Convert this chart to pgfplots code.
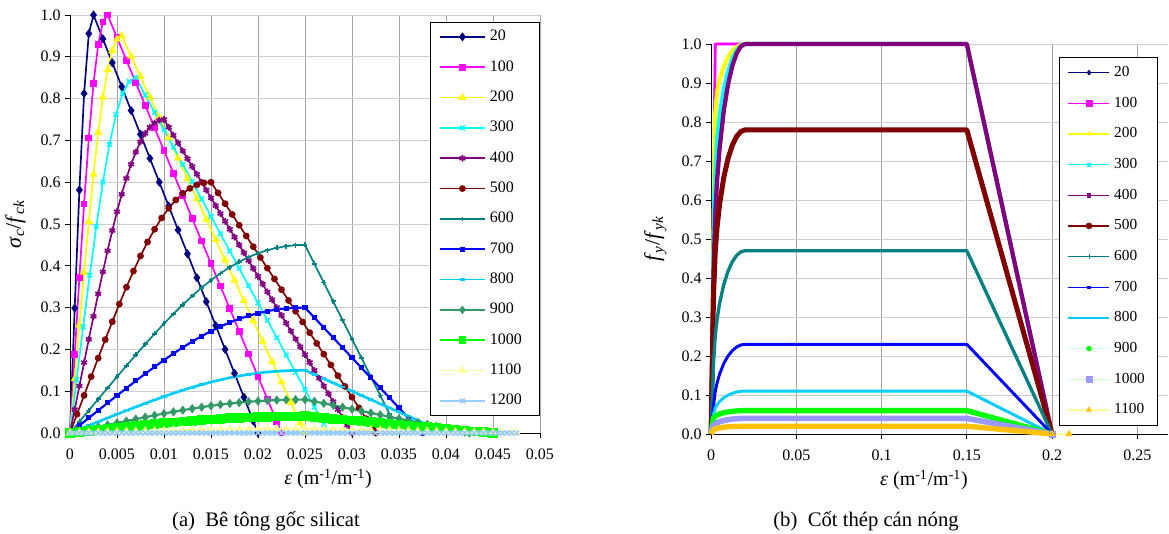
\documentclass[border=0pt]{standalone}
\usepackage{pgfplots}
\pgfplotsset{compat=1.18}
\usepackage{fontspec}
\setmainfont{Liberation Serif}
\definecolor{cNavy}{HTML}{000080}
\definecolor{cMag}{HTML}{FF00FF}
\definecolor{cYel}{HTML}{FFFF00}
\definecolor{cCyan}{HTML}{00FFFF}
\definecolor{cPurp}{HTML}{800080}
\definecolor{cDRed}{HTML}{800000}
\definecolor{cTeal}{HTML}{008080}
\definecolor{cBlue}{HTML}{0000FF}
\definecolor{cSky}{HTML}{00CCFF}
\definecolor{cSea}{HTML}{339966}
\definecolor{cGreen}{HTML}{00FF00}
\definecolor{cLYel}{HTML}{FFFF99}
\definecolor{cPBlue}{HTML}{99CCFF}
\definecolor{cLCyan}{HTML}{CCFFFF}
\definecolor{cLGreen}{HTML}{CCFFCC}
\definecolor{cLav}{HTML}{9999FF}
\definecolor{cGold}{HTML}{FFC000}
\pgfplotsset{
  excel/.style={
    scale only axis,
    axis x line*=bottom, axis y line*=left,
    axis line style={black, line width=0.7pt},
    tick align=outside, major tick length=3.5pt,
    tick style={black, line width=0.7pt},
    grid=major,
    x grid style={color=gray!70, line width=0.6pt},
    y grid style={color=gray!40, line width=0.6pt},
    ymin=0, ymax=1,
    scaled x ticks=false, scaled y ticks=false,
    ytick={0,0.1,0.2,0.3,0.4,0.5,0.6,0.7,0.8,0.9,1},
    yticklabels={0.0,0.1,0.2,0.3,0.4,0.5,0.6,0.7,0.8,0.9,1.0},
    tick label style={font=\fontsize{12}{14}\selectfont},
    xticklabel style={yshift=-4.5pt},
    xlabel style={font=\fontsize{15}{17}\selectfont, anchor=base, yshift=-39pt},
    ylabel style={font=\fontsize{16.5}{18}\selectfont},
    ylabel shift=4.5pt,
    clip=false,
    legend cell align=left,
  },
  rleg/.style 2 args={legend image code/.code={%
     \draw[color=#1, line width=1.1pt] (0pt,0pt) -- (30.75pt,0pt);
     \draw[line width=0.5pt, #2] plot coordinates {(15.4pt,0pt)};}},
  lp/.style n args={3}{color=#1, line width=1.25pt, mark=#2, mark size=#3},
}
\begin{document}
\begin{tikzpicture}
\useasboundingbox (0pt,0pt) rectangle (876.75pt,400.5pt);
% ---------------- (a) ----------------
\begin{axis}[excel, at={(52.5pt,75.75pt)}, anchor=south west,
  width=352.5pt, height=313.5pt,
  xmin=0, xmax=0.05,
  xtick={0,0.005,0.01,0.015,0.02,0.025,0.03,0.035,0.04,0.045,0.05},
  xticklabels={0,0.005,0.01,0.015,0.02,0.025,0.03,0.035,0.04,0.045,0.05},
  xlabel={\textit{ε} (m\textsuperscript{-1}/m\textsuperscript{-1})},
  xlabel style={at={(axis description cs:0.549,0)}},
  ylabel={\textit{σ}\textsubscript{\textit{c}}/\textit{f}\textsubscript{\textit{ck}}},
  legend style={at={(1,0.983)}, anchor=north east, draw=black, line width=0.6pt,
    inner xsep=6.75pt, inner ysep=4.3pt, font=\fontsize{12}{14}\selectfont,
    row sep=9.75pt, column sep=0pt,
    nodes={inner xsep=3pt, inner ysep=1pt, text height=8.5pt, text depth=2.5pt, text width=27.5pt, align=left}},
  legend image code/.code={\draw[mark repeat=2,mark phase=2, line width=1.25pt] plot coordinates {(0pt,0pt) (17pt,0pt) (34pt,0pt)};},
]
\addplot[lp={cNavy}{diamond*}{2.4pt}] coordinates {(0,0)(0.0005,0.2988)(0.001,0.5814)(0.0015,0.8123)(0.002,0.9554)(0.0025,1)(0.0035,0.9429)(0.0045,0.8857)(0.0055,0.8286)(0.0065,0.7714)(0.0075,0.7143)(0.0085,0.6571)(0.0095,0.6)(0.0105,0.5429)(0.0115,0.4857)(0.0125,0.4286)(0.0135,0.3714)(0.0145,0.3143)(0.0155,0.2571)(0.0165,0.2)(0.0175,0.1429)(0.0185,0.0857)(0.0195,0.0286)(0.02,0)};
\addplot[lp={cMag}{square*}{1.9pt}] coordinates {(0,0)(0.0005,0.1873)(0.001,0.3721)(0.0015,0.5481)(0.002,0.7059)(0.0025,0.8355)(0.003,0.9290)(0.0035,0.9832)(0.004,1)(0.005,0.9459)(0.006,0.8919)(0.007,0.8378)(0.008,0.7838)(0.009,0.7297)(0.010,0.6757)(0.011,0.6216)(0.012,0.5676)(0.013,0.5135)(0.014,0.4595)(0.015,0.4054)(0.016,0.3514)(0.017,0.2973)(0.018,0.2432)(0.019,0.1892)(0.020,0.1351)(0.021,0.0811)(0.022,0.0270)(0.0225,0)};
\addplot[lp={cYel}{triangle*}{2.3pt}] coordinates {(0,0)(0.0005,0.1295)(0.001,0.2583)(0.0015,0.3847)(0.002,0.5060)(0.0025,0.6187)(0.003,0.7190)(0.0035,0.8033)(0.004,0.8692)(0.0045,0.9152)(0.005,0.9417)(0.0055,0.95)(0.0065,0.9013)(0.0075,0.8526)(0.0085,0.8038)(0.0095,0.7551)(0.0105,0.7064)(0.0115,0.6577)(0.0125,0.6090)(0.0135,0.5603)(0.0145,0.5115)(0.0155,0.4628)(0.0165,0.4141)(0.0175,0.3654)(0.0185,0.3167)(0.0195,0.2679)(0.0205,0.2192)(0.0215,0.1705)(0.0225,0.1218)(0.0235,0.0731)(0.0245,0.0244)(0.025,0)};
\addplot[lp={cCyan}{x}{2.4pt}] coordinates {(0,0)(0.0007,0.1274)(0.0014,0.2540)(0.0021,0.3774)(0.0028,0.4942)(0.0035,0.6000)(0.0042,0.6904)(0.0049,0.7618)(0.0056,0.8121)(0.0063,0.8410)(0.007,0.85)(0.008,0.8085)(0.009,0.7671)(0.010,0.7256)(0.011,0.6841)(0.012,0.6427)(0.013,0.6012)(0.014,0.5598)(0.015,0.5183)(0.016,0.4768)(0.017,0.4354)(0.018,0.3939)(0.019,0.3524)(0.020,0.3110)(0.021,0.2695)(0.022,0.2280)(0.023,0.1866)(0.024,0.1451)(0.025,0.1037)(0.026,0.0622)(0.027,0.0207)(0.0275,0)};
\addplot[lp={cPurp}{asterisk}{2.5pt}] coordinates {(0,0)(0.0005,0.0562)(0.001,0.1124)(0.0015,0.1685)(0.002,0.2241)(0.0025,0.2791)(0.003,0.3330)(0.0035,0.3855)(0.004,0.4361)(0.0045,0.4842)(0.005,0.5294)(0.0055,0.5712)(0.006,0.6092)(0.0065,0.6430)(0.007,0.6722)(0.0075,0.6968)(0.008,0.7166)(0.0085,0.7316)(0.009,0.7420)(0.0095,0.7481)(0.01,0.75)(0.0105,0.7313)(0.011,0.7125)(0.0115,0.6938)(0.012,0.675)(0.0125,0.6563)(0.013,0.6375)(0.0135,0.6188)(0.014,0.6)(0.0145,0.5813)(0.015,0.5625)(0.0155,0.5438)(0.016,0.525)(0.0165,0.5063)(0.017,0.4875)(0.0175,0.4688)(0.018,0.45)(0.0185,0.4313)(0.019,0.4125)(0.0195,0.3938)(0.02,0.375)(0.0205,0.3563)(0.021,0.3375)(0.0215,0.3188)(0.022,0.3)(0.0225,0.2813)(0.023,0.2625)(0.0235,0.2438)(0.024,0.225)(0.0245,0.2063)(0.025,0.1875)(0.0255,0.1688)(0.026,0.15)(0.0265,0.1313)(0.027,0.1125)(0.0275,0.0938)(0.028,0.075)(0.0285,0.0563)(0.029,0.0375)(0.0295,0.0188)(0.03,0)};
\addplot[lp={cDRed}{*}{1.9pt}] coordinates {(0,0)(0.00075,0.0450)(0.0015,0.0900)(0.00225,0.1348)(0.003,0.1793)(0.00375,0.2233)(0.0045,0.2664)(0.00525,0.3084)(0.006,0.3488)(0.00675,0.3873)(0.0075,0.4235)(0.00825,0.4570)(0.009,0.4874)(0.00975,0.5144)(0.0105,0.5378)(0.01125,0.5574)(0.012,0.5732)(0.01275,0.5853)(0.0135,0.5936)(0.01425,0.5985)(0.015,0.6)(0.01575,0.5743)(0.0165,0.5486)(0.01725,0.5229)(0.018,0.4971)(0.01875,0.4714)(0.0195,0.4457)(0.02025,0.42)(0.021,0.3943)(0.02175,0.3686)(0.0225,0.3429)(0.02325,0.3171)(0.024,0.2914)(0.02475,0.2657)(0.0255,0.24)(0.02625,0.2143)(0.027,0.1886)(0.02775,0.1629)(0.0285,0.1371)(0.02925,0.1114)(0.03,0.0857)(0.03075,0.06)(0.0315,0.0343)(0.03225,0.0086)(0.0325,0)};
\addplot[lp={cTeal}{+}{1.8pt}] coordinates {(0,0)(0.001,0.0270)(0.002,0.0540)(0.003,0.0809)(0.004,0.1078)(0.005,0.1345)(0.006,0.1609)(0.007,0.1869)(0.008,0.2125)(0.009,0.2375)(0.010,0.2616)(0.011,0.2849)(0.012,0.3070)(0.013,0.3279)(0.014,0.3475)(0.015,0.3655)(0.016,0.3819)(0.017,0.3966)(0.018,0.4096)(0.019,0.4207)(0.020,0.4299)(0.021,0.4374)(0.022,0.4430)(0.023,0.4470)(0.024,0.4493)(0.025,0.45)(0.026,0.405)(0.027,0.36)(0.028,0.315)(0.029,0.27)(0.030,0.225)(0.031,0.18)(0.032,0.135)(0.033,0.09)(0.034,0.045)(0.035,0)};
\addplot[lp={cBlue}{square*}{1.1pt}, line width=1.6pt] coordinates {(0,0)(0.001,0.018)(0.002,0.0360)(0.003,0.0540)(0.004,0.0719)(0.005,0.0896)(0.006,0.1073)(0.007,0.1246)(0.008,0.1417)(0.009,0.1583)(0.010,0.1744)(0.011,0.1899)(0.012,0.2047)(0.013,0.2186)(0.014,0.2317)(0.015,0.2437)(0.016,0.2546)(0.017,0.2644)(0.018,0.2730)(0.019,0.2804)(0.020,0.2866)(0.021,0.2916)(0.022,0.2954)(0.023,0.2980)(0.024,0.2995)(0.025,0.3)(0.026,0.276)(0.027,0.252)(0.028,0.228)(0.029,0.204)(0.030,0.18)(0.031,0.156)(0.032,0.132)(0.033,0.108)(0.034,0.084)(0.035,0.06)(0.036,0.036)(0.037,0.012)(0.0375,0)};
\addplot[lp={cSky}{-}{2pt}, line width=2pt, mark options={line width=1.8pt}] coordinates {(0,0)(0.001,0.009)(0.002,0.018)(0.003,0.027)(0.004,0.0359)(0.005,0.0448)(0.006,0.0536)(0.007,0.0623)(0.008,0.0708)(0.009,0.0792)(0.010,0.0872)(0.011,0.0950)(0.012,0.1023)(0.013,0.1093)(0.014,0.1158)(0.015,0.1218)(0.016,0.1273)(0.017,0.1322)(0.018,0.1365)(0.019,0.1402)(0.020,0.1433)(0.021,0.1458)(0.022,0.1477)(0.023,0.1490)(0.024,0.1498)(0.025,0.15)(0.026,0.14)(0.027,0.13)(0.028,0.12)(0.029,0.11)(0.030,0.10)(0.031,0.09)(0.032,0.08)(0.033,0.07)(0.034,0.06)(0.035,0.05)(0.036,0.04)(0.037,0.03)(0.038,0.02)(0.039,0.01)(0.04,0)};
\addplot[lp={cSea}{diamond*}{2.2pt}, line width=1.6pt] coordinates {(0,0)(0.001,0.0048)(0.002,0.0096)(0.003,0.0144)(0.004,0.0192)(0.005,0.0239)(0.006,0.0286)(0.007,0.0332)(0.008,0.0378)(0.009,0.0422)(0.010,0.0465)(0.011,0.0506)(0.012,0.0546)(0.013,0.0583)(0.014,0.0618)(0.015,0.0650)(0.016,0.0679)(0.017,0.0705)(0.018,0.0728)(0.019,0.0748)(0.020,0.0764)(0.021,0.0778)(0.022,0.0788)(0.023,0.0795)(0.024,0.0799)(0.025,0.08)(0.026,0.0754)(0.027,0.0709)(0.028,0.0663)(0.029,0.0617)(0.030,0.0571)(0.031,0.0526)(0.032,0.048)(0.033,0.0434)(0.034,0.0389)(0.035,0.0343)(0.036,0.0297)(0.037,0.0251)(0.038,0.0206)(0.039,0.016)(0.040,0.0114)(0.041,0.0069)(0.042,0.0023)(0.0425,0)};
\addplot[lp={cGreen}{square*}{2.2pt}, line width=2.8pt] coordinates {(0,0)(0.001,0.0024)(0.002,0.0048)(0.003,0.0072)(0.004,0.0096)(0.005,0.012)(0.006,0.0143)(0.007,0.0166)(0.008,0.0189)(0.009,0.0211)(0.010,0.0233)(0.011,0.0253)(0.012,0.0273)(0.013,0.0292)(0.014,0.0309)(0.015,0.0325)(0.016,0.0340)(0.017,0.0353)(0.018,0.0364)(0.019,0.0374)(0.020,0.0382)(0.021,0.0389)(0.022,0.0394)(0.023,0.0397)(0.024,0.0399)(0.025,0.04)(0.026,0.038)(0.027,0.036)(0.028,0.034)(0.029,0.032)(0.030,0.030)(0.031,0.028)(0.032,0.026)(0.033,0.024)(0.034,0.022)(0.035,0.020)(0.036,0.018)(0.037,0.016)(0.038,0.014)(0.039,0.012)(0.040,0.010)(0.041,0.008)(0.042,0.006)(0.043,0.004)(0.044,0.002)(0.045,0)};
\addplot[lp={cLYel}{triangle*}{2.5pt}] coordinates {(0,0)(0.001,0.0006)(0.002,0.0012)(0.003,0.0018)(0.004,0.0024)(0.005,0.0030)(0.006,0.0036)(0.007,0.0042)(0.008,0.0047)(0.009,0.0053)(0.010,0.0058)(0.011,0.0063)(0.012,0.0068)(0.013,0.0073)(0.014,0.0077)(0.015,0.0081)(0.016,0.0085)(0.017,0.0088)(0.018,0.0091)(0.019,0.0093)(0.020,0.0096)(0.021,0.0097)(0.022,0.0098)(0.023,0.0099)(0.024,0.0100)(0.025,0.01)(0.026,0.0096)(0.027,0.0091)(0.028,0.0087)(0.029,0.0082)(0.030,0.0078)(0.031,0.0073)(0.032,0.0069)(0.033,0.0064)(0.034,0.006)(0.035,0.0056)(0.036,0.0051)(0.037,0.0047)(0.038,0.0042)(0.039,0.0038)(0.040,0.0033)(0.041,0.0029)(0.042,0.0024)(0.043,0.002)(0.044,0.0016)(0.045,0.0011)(0.046,0.0007)(0.047,0.0002)(0.0475,0)};
\addplot[lp={cPBlue}{x}{2.5pt}] coordinates {(0,0)(0.0005,0)(0.001,0)(0.0015,0)(0.002,0)(0.0025,0)(0.003,0)(0.0035,0)(0.004,0)(0.0045,0)(0.005,0)(0.0055,0)(0.006,0)(0.0065,0)(0.007,0)(0.0075,0)(0.008,0)(0.0085,0)(0.009,0)(0.0095,0)(0.01,0)(0.0105,0)(0.011,0)(0.0115,0)(0.012,0)(0.0125,0)(0.013,0)(0.0135,0)(0.014,0)(0.0145,0)(0.015,0)(0.0155,0)(0.016,0)(0.0165,0)(0.017,0)(0.0175,0)(0.018,0)(0.0185,0)(0.019,0)(0.0195,0)(0.02,0)(0.0205,0)(0.021,0)(0.0215,0)(0.022,0)(0.0225,0)(0.023,0)(0.0235,0)(0.024,0)(0.0245,0)(0.025,0)(0.0255,0)(0.026,0)(0.0265,0)(0.027,0)(0.0275,0)(0.028,0)(0.0285,0)(0.029,0)(0.0295,0)(0.03,0)(0.0305,0)(0.031,0)(0.0315,0)(0.032,0)(0.0325,0)(0.033,0)(0.0335,0)(0.034,0)(0.0345,0)(0.035,0)(0.0355,0)(0.036,0)(0.0365,0)(0.037,0)(0.0375,0)(0.038,0)(0.0385,0)(0.039,0)(0.0395,0)(0.04,0)(0.0405,0)(0.041,0)(0.0415,0)(0.042,0)(0.0425,0)(0.043,0)(0.0435,0)(0.044,0)(0.0445,0)(0.045,0)(0.0455,0)(0.046,0)(0.0465,0)(0.047,0)(0.0475,0)};
\legend{20,100,200,300,400,500,600,700,800,900,1000,1100,1200}
\end{axis}
% ---------------- (b) ----------------
\begin{axis}[excel, at={(533.25pt,75pt)}, anchor=south west,
  width=342.75pt, height=292.5pt,
  xmin=0, xmax=0.268,
  xtick={0,0.05,0.1,0.15,0.2,0.25},
  xticklabels={0,0.05,0.1,0.15,0.2,0.25},
  xlabel={\textit{ε} (m\textsuperscript{-1}/m\textsuperscript{-1})},
  xlabel style={at={(axis description cs:0.466,0)}},
  ylabel={\textit{f}\textsubscript{\textit{y}}/\textit{f}\textsubscript{\textit{yk}}},
  legend style={at={(0.978,0.967)}, anchor=north east, draw=black, line width=0.6pt,
    inner xsep=6.5pt, inner ysep=5pt, font=\fontsize{11.5}{13}\selectfont,
    row sep=10pt, column sep=0pt,
    nodes={inner xsep=3pt, inner ysep=1pt, text height=8.5pt, text depth=2.5pt, text width=23pt, align=left}},
]
\addplot[color=cNavy, line width=1.5pt, line join=round, rleg={cNavy}{mark=diamond*, mark size=1.8pt, mark options={draw=cNavy,fill=cNavy}}] coordinates {(0,0)(0.0025,1)(0.02,1)(0.15,1)(0.2,0)};
\addplot[color=cMag, line width=2pt, line join=round, rleg={cMag}{mark=square*, mark size=2.2pt, mark options={draw=cMag,fill=cMag}}] coordinates {(0,0)(0.0025,1)(0.02,1)(0.15,1)(0.2,0)};
\addplot[color=cYel, line width=3pt, line join=round, rleg={cYel}{mark=triangle*, mark size=1.8pt, mark options={draw=cYel,fill=cYel}}] coordinates {(0,0)(0.00225,0.81)(0.0035,0.8765)(0.005,0.9089)(0.0075,0.9432)(0.01,0.9660)(0.0125,0.9817)(0.015,0.9921)(0.0175,0.998)(0.02,1)(0.15,1)(0.2,0)};
\addplot[color=cCyan, line width=3pt, line join=round, rleg={cCyan}{mark=square*, mark size=1.3pt, mark options={draw=cCyan,fill=cCyan}}] coordinates {(0,0)(0.0019,0.61)(0.0035,0.7544)(0.005,0.8161)(0.0075,0.8843)(0.01,0.9304)(0.0125,0.9624)(0.015,0.9837)(0.0175,0.9960)(0.02,1)(0.15,1)(0.2,0)};
\addplot[color=cPurp, line width=3.2pt, line join=round, rleg={cPurp}{mark=square*, mark size=1.3pt, mark options={draw=cPurp,fill=cPurp}}] coordinates {(0,0)(0.0015,0.42)(0.0025,0.5657)(0.0035,0.6456)(0.005,0.7307)(0.0075,0.8288)(0.01,0.8965)(0.0125,0.9440)(0.015,0.9757)(0.0175,0.9940)(0.02,1)(0.15,1)(0.2,0)};
\addplot[color=cDRed, line width=3.75pt, line join=round, rleg={cDRed}{mark=*, mark size=2.2pt, mark options={draw=cDRed,fill=cDRed}}] coordinates {(0,0)(0.0015,0.36)(0.0025,0.47)(0.0035,0.5276)(0.005,0.5884)(0.0075,0.6583)(0.01,0.7065)(0.0125,0.7402)(0.015,0.7627)(0.0175,0.7757)(0.02,0.78)(0.15,0.78)(0.2,0)};
\addplot[color=cTeal, line width=2.5pt, line join=round, rleg={cTeal}{mark=+, mark size=1.6pt, mark options={draw=cTeal}}] coordinates {(0,0)(0.00145,0.18)(0.0025,0.2525)(0.0035,0.2919)(0.005,0.3343)(0.0075,0.3836)(0.01,0.4177)(0.0125,0.4417)(0.015,0.4577)(0.0175,0.4670)(0.02,0.47)(0.15,0.47)(0.2,0)};
\addplot[color=cBlue, line width=2.2pt, line join=round, rleg={cBlue}{mark=square*, mark size=1pt, mark options={draw=cBlue,fill=cBlue}}] coordinates {(0,0)(0.00135,0.07)(0.0025,0.1089)(0.0035,0.1299)(0.005,0.1533)(0.0075,0.1809)(0.01,0.2002)(0.0125,0.2138)(0.015,0.2230)(0.0175,0.2283)(0.02,0.23)(0.15,0.23)(0.2,0)};
\addplot[color=cSky, line width=2.2pt, line join=round, rleg={cSky}{mark=-, mark size=2pt, mark options={draw=cSky, line width=1.6pt}}] coordinates {(0,0)(0.0014,0.05)(0.0025,0.0669)(0.0035,0.0748)(0.005,0.0832)(0.0075,0.0929)(0.01,0.0997)(0.0125,0.1044)(0.015,0.1076)(0.0175,0.1094)(0.02,0.11)(0.15,0.11)(0.2,0)};
\addplot[color=cGreen, line width=4pt, line join=round, rleg={cLCyan}{mark=*, mark size=1.8pt, mark options={draw=cGreen,fill=cGreen}}] coordinates {(0,0)(0.0014,0.04)(0.0025,0.0462)(0.0035,0.0488)(0.005,0.0515)(0.0075,0.0546)(0.01,0.0567)(0.0125,0.0582)(0.015,0.0592)(0.0175,0.0598)(0.02,0.06)(0.15,0.06)(0.2,0)};
\addplot[color=cLav, line width=4.2pt, line join=round, rleg={cLGreen}{mark=square*, mark size=2.2pt, mark options={draw=cLav,fill=cLav}}] coordinates {(0,0)(0.00125,0.02)(0.0025,0.0263)(0.0035,0.0288)(0.005,0.0314)(0.0075,0.0345)(0.01,0.0367)(0.0125,0.0382)(0.015,0.0392)(0.0175,0.0398)(0.02,0.04)(0.15,0.04)(0.2,0)};
\addplot[color=cGold, line width=4pt, line join=round, rleg={cLYel}{mark=triangle*, mark size=2.2pt, mark options={draw=cGold,fill=cGold}}] coordinates {(0,0)(0.00125,0.01)(0.0025,0.0132)(0.0035,0.0144)(0.005,0.0157)(0.0075,0.0173)(0.01,0.0184)(0.0125,0.0191)(0.015,0.0196)(0.0175,0.0199)(0.02,0.02)(0.15,0.02)(0.2,0)};
\addplot[forget plot, only marks, mark=square*, mark size=2.2pt, color=cLav] coordinates {(0.2,0)};
\addplot[forget plot, color=cLYel, line width=1pt, mark=triangle*, mark size=2.2pt, mark options={draw=cGold,fill=cGold}] coordinates {(0.2,0)(0.21,0)};
\legend{20,100,200,300,400,500,600,700,800,900,1000,1100}
\end{axis}
\node[anchor=base, font=\fontsize{15.5}{17}\selectfont] at (199.5pt,5.25pt) {(a)\ \ Bê tông gốc silicat};
\node[anchor=base, font=\fontsize{15.5}{17}\selectfont] at (649.5pt,5.25pt) {(b)\ \ Cốt thép cán nóng};
\end{tikzpicture}
\end{document}
